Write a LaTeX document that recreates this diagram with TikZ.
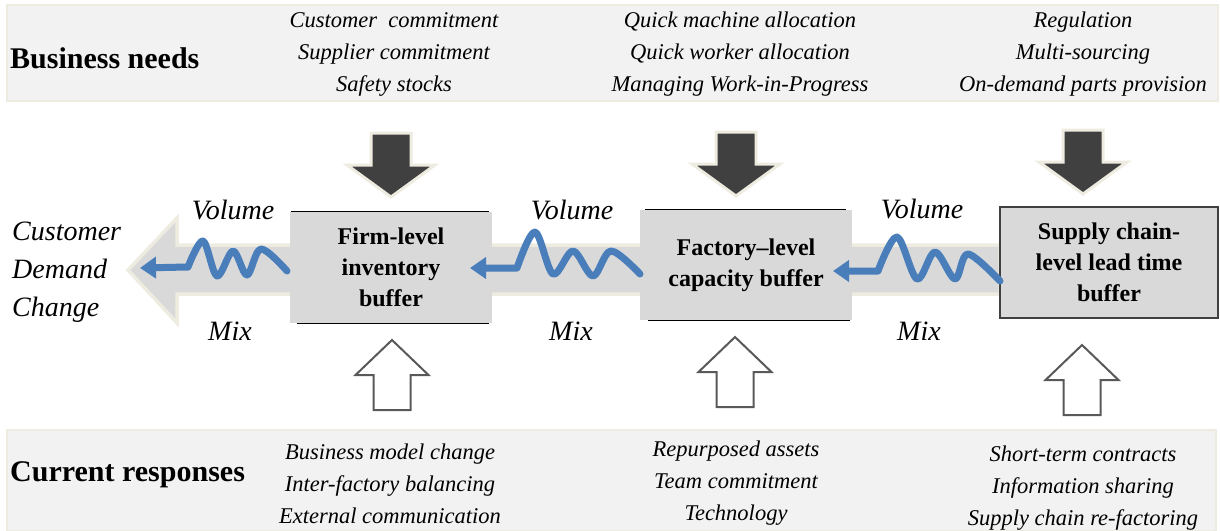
\documentclass[tikz,border=0pt]{standalone}
\usepackage{fontspec}
\setmainfont{Liberation Serif}
\usetikzlibrary{arrows.meta}

\definecolor{bandfill}{HTML}{F2F2F2}
\definecolor{rim}{HTML}{EEECE1}
\definecolor{boxgray}{HTML}{D9D9D9}
\definecolor{darkarrow}{HTML}{404040}
\definecolor{outlinegray}{HTML}{595959}
\definecolor{flowblue}{HTML}{4A7EBB}

\newcommand\fsz[2]{\fontsize{#1}{#2}\selectfont}

\tikzset{
  bandbox/.style={fill=bandfill, draw=rim, line width=2},
  heading/.style={font=\fsz{30}{36}\bfseries, anchor=base west, inner sep=0},
  itemlist/.style={font=\fsz{22.5}{32}\itshape, align=center, inner sep=0},
  flowlabel/.style={font=\fsz{28}{34}\itshape, anchor=base, inner sep=0},
  bufferbox/.style={fill=boxgray, inner sep=0, align=center,
    font=\fsz{24}{31}\bfseries},
  edgeline/.style={line width=1.3, draw=black},
  flow/.style={draw=flowblue, line width=7, line cap=round, line join=round,
    -{Triangle[length=16pt,width=21pt]}},
  pics/needarrow/.style={code={
    \draw[fill=darkarrow, draw=rim, line width=3]
      (-20,-32) -- (20,-32) -- (20,0) -- (44,0) -- (0,32) -- (-44,0) -- (-20,0) -- cycle;}},
  pics/responsearrow/.style={code={
    \draw[fill=white, draw=outlinegray, line width=2]
      (0,-35) -- (36.5,0) -- (18.5,0) -- (18.5,35) -- (-18.5,35) -- (-18.5,0) -- (-36.5,0) -- cycle;}}
}

\begin{document}
\begin{tikzpicture}[x=1pt, y=-1pt]
  \useasboundingbox (0,0) rectangle (1220,530);

  % top and bottom bands
  \draw[bandbox] (7,5) rectangle (1218,101);
  \draw[bandbox] (7,430) rectangle (1216,531);

  % wide pale arrow pointing to the customer
  \draw[fill=boxgray, draw=rim, line width=3.5]
    (128,270) -- (177,218) -- (177,245) -- (1000,245) -- (1000,294)
    -- (177,294) -- (177,323) -- cycle;

  % headings
  \node[heading] (needs) at (10,68) {Business needs};
  \node[heading] (responses) at (10,481) {Current responses};

  % business needs
  \node[itemlist] (need1) at (394,54) {Customer\ \ commitment\\Supplier commitment\\Safety stocks};
  \node[itemlist] (need2) at (740,54) {Quick machine allocation\\Quick worker allocation\\Managing Work-in-Progress};
  \node[itemlist] (need3) at (1083,54) {Regulation\\Multi-sourcing\\On-demand parts provision};

  % current responses
  \node[itemlist] (resp1) at (390,484) {Business model change\\Inter-factory balancing\\External communication};
  \node[itemlist] (resp2) at (736,483) {Repurposed assets\\Team commitment\\Technology};
  \node[itemlist] (resp3) at (1083,488) {Short-term contracts\\Information sharing\\Supply chain re-factoring};

  % buffers
  \node[bufferbox, minimum width=202, minimum height=111] (b1) at (391,267.5)
    {Firm-level\\inventory\\buffer};
  \node[bufferbox, minimum width=212, minimum height=110] (b2) at (746,265)
    {Factory–level\\capacity buffer};
  \node[bufferbox, minimum width=218, minimum height=111, draw=darkarrow, line width=1.5]
    (b3) at (1109,262.5) {Supply chain-\\level lead time\\buffer};

  \draw[edgeline] ([xshift=1]b1.north west) -- ([xshift=-3]b1.north east);
  \draw[edgeline] ([xshift=7]b1.south west) -- ([xshift=-3]b1.south east);
  \draw[edgeline] ([xshift=5]b2.north west) -- ([xshift=-6]b2.north east);
  \draw[edgeline] ([xshift=8]b2.south west) -- ([xshift=-2]b2.south east);

  % customer side
  \node[font=\fsz{28}{38}\itshape, align=left, anchor=west, inner sep=0]
    (customer) at (12,272) {Customer\\Demand\\Change};

  % volume / mix labels
  \node[flowlabel] (vol1) at (233,219) {Volume};
  \node[flowlabel] (vol2) at (572,219) {Volume};
  \node[flowlabel] (vol3) at (922,218) {Volume};
  \node[flowlabel] (mix1) at (230,340) {Mix};
  \node[flowlabel] (mix2) at (571,340) {Mix};
  \node[flowlabel] (mix3) at (919,340) {Mix};

  % wavy demand flows
  \coordinate (s1) at (287,271);
  \coordinate (t1) at (140,268);
  \coordinate (s2) at (640,274);
  \coordinate (t2) at (470,268);
  \coordinate (s3) at (1000,281);
  \coordinate (t3) at (833,271);

  \draw[flow] plot[smooth, tension=0.55] coordinates
    {(s1) (261,249) (247,275) (233,251) (217,276) (203,241) (188,267)} -- (t1);
  \draw[flow] plot[smooth, tension=0.55] coordinates
    {(s2) (611,251) (593,276) (573,251) (553,274) (535,232) (517,268)} -- (t2);
  \draw[flow] plot[smooth, tension=0.55] coordinates
    {(s3) (968,254) (955,279) (935,252) (917,279) (897,237) (878,271)} -- (t3);

  % needs pressing down, responses pushing up
  \pic at (391,165) {needarrow};
  \pic at (736,164) {needarrow};
  \pic at (1083,162) {needarrow};
  \pic at (392,375) {responsearrow};
  \pic at (735,372) {responsearrow};
  \pic at (1082,380) {responsearrow};
\end{tikzpicture}
\end{document}
